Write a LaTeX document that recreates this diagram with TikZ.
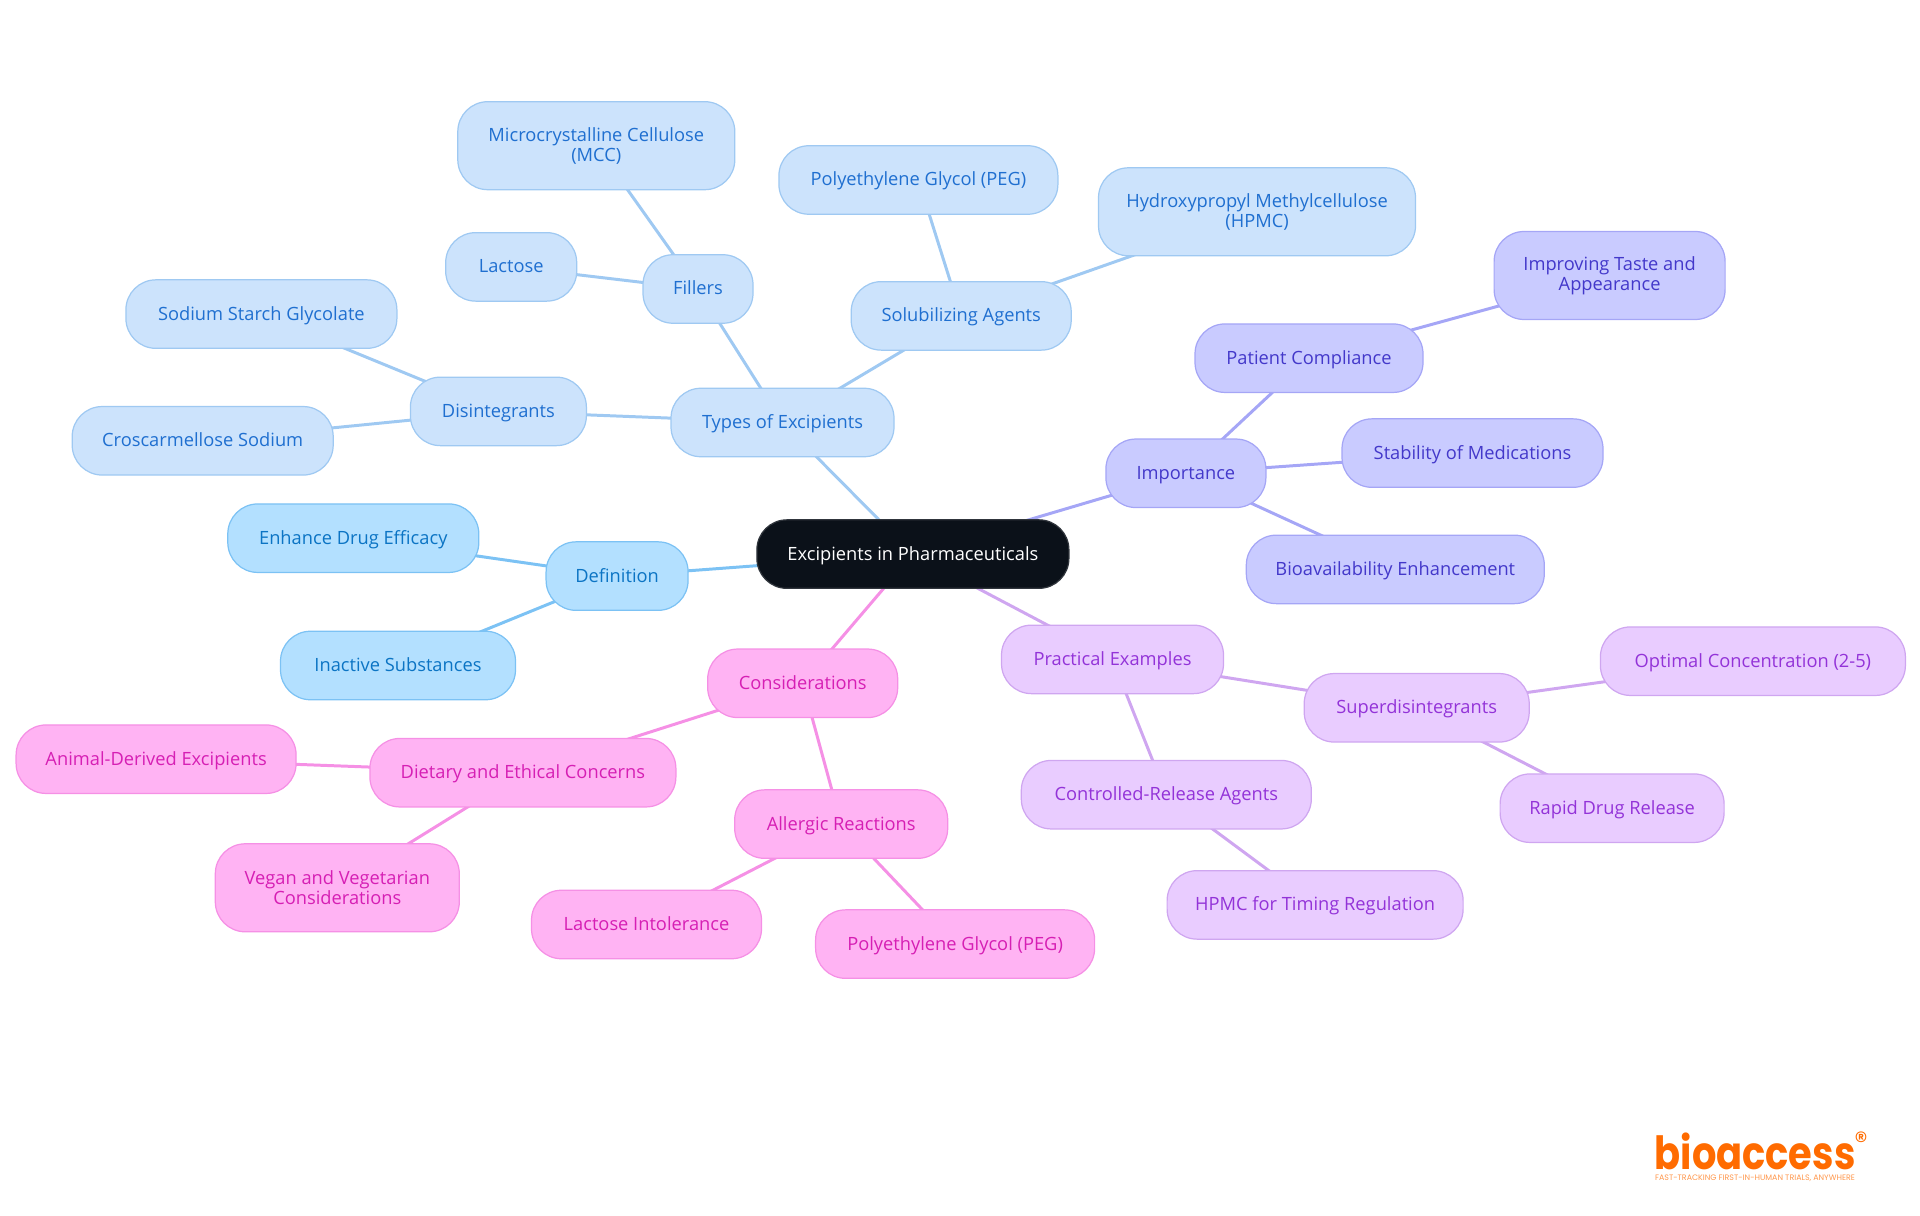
\documentclass[tikz,border=0pt]{standalone}
\usepackage{fontspec}
\setmainfont{Open Sans}
\newfontfamily\logofont{Poppins}
\usepackage{tikz}
\usetikzlibrary{backgrounds}
\definecolor{rootfill}    {HTML}{0B1119}
\definecolor{deffill}     {HTML}{B3E0FF}
\definecolor{defline}     {HTML}{7CC2F4}
\definecolor{definktext}  {HTML}{0B74C4}
\definecolor{typesfill}   {HTML}{CCE3FC}
\definecolor{typesline}   {HTML}{9FC9F2}
\definecolor{typestext}   {HTML}{1F6FD0}
\definecolor{importfill}  {HTML}{C9CBFF}
\definecolor{importline}  {HTML}{A5A6F6}
\definecolor{importtext}  {HTML}{4338CA}
\definecolor{practfill}   {HTML}{E9CCFF}
\definecolor{practline}   {HTML}{CFA6F0}
\definecolor{practtext}   {HTML}{9333D8}
\definecolor{considfill}  {HTML}{FFB3F3}
\definecolor{considline}  {HTML}{F590E5}
\definecolor{considtext}  {HTML}{D61FB4}
\definecolor{logoorange}  {HTML}{FF6B00}
\tikzset{
  mapbox/.style={rectangle, rounded corners=0.3cm, align=center, inner sep=0pt,
    minimum height=0.685cm, line width=0.35pt, text height=0.17cm, text depth=0.05cm,
    font=\fontsize{5.2}{5.6}\selectfont},
  tallbox/.style={minimum height=0.88cm, text height=, text depth=},
  rootbox/.style={mapbox, fill=rootfill, draw=rootfill!85!white, text=white},
  defbox/.style={mapbox, fill=deffill, draw=defline, text=definktext},
  typesbox/.style={mapbox, fill=typesfill, draw=typesline, text=typestext},
  importbox/.style={mapbox, fill=importfill, draw=importline, text=importtext},
  practbox/.style={mapbox, fill=practfill, draw=practline, text=practtext},
  considbox/.style={mapbox, fill=considfill, draw=considline, text=considtext},
  deflink/.style={defline, line width=0.85pt},
  typeslink/.style={typesline, line width=0.85pt},
  importlink/.style={importline, line width=0.85pt},
  practlink/.style={practline, line width=0.85pt},
  considlink/.style={considline, line width=0.85pt}
}
\begin{document}
\begin{tikzpicture}
    \useasboundingbox (0, 0) rectangle (19.2, 12.15);

    \node[rootbox, minimum width=3.12cm] (root) at (9.129, 6.609) {Excipients in Pharmaceuticals};

    \node[defbox, minimum width=1.42cm] (definition) at (6.171, 6.389) {Definition};
    \node[defbox, minimum width=2.51cm] (efficacy) at (3.533, 6.768) {Enhance Drug Efficacy};
    \node[defbox, minimum width=2.35cm] (inactive) at (3.980, 5.495) {Inactive Substances};

    \node[typesbox, minimum width=2.23cm] (types) at (7.825, 7.925) {Types of Excipients};
    \node[typesbox, minimum width=1.76cm] (disint) at (4.984, 8.036) {Disintegrants};
    \node[typesbox, minimum width=2.71cm] (starch) at (2.614, 9.009) {Sodium Starch Glycolate};
    \node[typesbox, minimum width=2.61cm] (croscarm) at (2.027, 7.742) {Croscarmellose Sodium};
    \node[typesbox, minimum width=1.10cm] (fillers) at (6.980, 9.260) {Fillers};
    \node[typesbox, minimum width=1.31cm] (lactose) at (5.112, 9.481) {Lactose};
    \node[typesbox, tallbox, minimum width=2.77cm] (mcc) at (5.963, 10.693) {Microcrystalline Cellulose\\(MCC)};
    \node[typesbox, minimum width=2.20cm] (solub) at (9.612, 8.991) {Solubilizing Agents};
    \node[typesbox, minimum width=2.79cm] (peg) at (9.184, 10.350) {Polyethylene Glycol (PEG)};
    \node[typesbox, tallbox, minimum width=3.17cm] (hpmc) at (12.570, 10.032) {Hydroxypropyl Methylcellulose\\(HPMC)};

    \node[importbox, minimum width=1.60cm] (importance) at (11.859, 7.417) {Importance};
    \node[importbox, minimum width=2.28cm] (patient) at (13.090, 8.568) {Patient Compliance};
    \node[importbox, tallbox, minimum width=2.31cm] (taste) at (16.096, 9.395) {Improving Taste and\\Appearance};
    \node[importbox, minimum width=2.61cm] (stability) at (14.725, 7.619) {Stability of Medications};
    \node[importbox, minimum width=2.98cm] (bioavail) at (13.953, 6.456) {Bioavailability Enhancement};

    \node[practbox, minimum width=2.22cm] (practical) at (11.125, 5.556) {Practical Examples};
    \node[practbox, minimum width=2.25cm] (superdis) at (14.167, 5.072) {Superdisintegrants};
    \node[practbox, minimum width=3.05cm] (optimal) at (17.529, 5.538) {Optimal Concentration (2-5)};
    \node[practbox, minimum width=2.24cm] (rapid) at (16.121, 4.068) {Rapid Drug Release};
    \node[practbox, minimum width=2.90cm] (controlled) at (11.663, 4.203) {Controlled-Release Agents};
    \node[practbox, minimum width=2.96cm] (timing) at (13.151, 3.101) {HPMC for Timing Regulation};

    \node[considbox, minimum width=1.90cm] (consid) at (8.027, 5.317) {Considerations};
    \node[considbox, minimum width=3.06cm] (dietary) at (5.229, 4.423) {Dietary and Ethical Concerns};
    \node[considbox, minimum width=2.80cm] (animal) at (1.561, 4.558) {Animal-Derived Excipients};
    \node[considbox, tallbox, minimum width=2.44cm] (vegan) at (3.373, 3.272) {Vegan and Vegetarian\\Considerations};
    \node[considbox, minimum width=2.13cm] (allergic) at (8.412, 3.909) {Allergic Reactions};
    \node[considbox, minimum width=2.30cm] (intoler) at (6.465, 2.905) {Lactose Intolerance};
    \node[considbox, minimum width=2.79cm] (pegallergy) at (9.551, 2.709) {Polyethylene Glycol (PEG)};

    \begin{scope}[on background layer]
    \draw[deflink] (root.center) -- (definition.center);
    \draw[deflink] (definition.center) -- (efficacy.center);
    \draw[deflink] (definition.center) -- (inactive.center);

    \draw[typeslink] (root.center) -- (types.center);
    \draw[typeslink] (types.center) -- (disint.center);
    \draw[typeslink] (disint.center) -- (starch.center);
    \draw[typeslink] (disint.center) -- (croscarm.center);
    \draw[typeslink] (types.center) -- (fillers.center);
    \draw[typeslink] (fillers.center) -- (lactose.center);
    \draw[typeslink] (fillers.center) -- (mcc.center);
    \draw[typeslink] (types.center) -- (solub.center);
    \draw[typeslink] (solub.center) -- (peg.center);
    \draw[typeslink] (solub.center) -- (hpmc.center);

    \draw[importlink] (root.center) -- (importance.center);
    \draw[importlink] (importance.center) -- (patient.center);
    \draw[importlink] (patient.center) -- (taste.center);
    \draw[importlink] (importance.center) -- (stability.center);
    \draw[importlink] (importance.center) -- (bioavail.center);

    \draw[practlink] (root.center) -- (practical.center);
    \draw[practlink] (practical.center) -- (superdis.center);
    \draw[practlink] (superdis.center) -- (optimal.center);
    \draw[practlink] (superdis.center) -- (rapid.center);
    \draw[practlink] (practical.center) -- (controlled.center);
    \draw[practlink] (controlled.center) -- (timing.center);

    \draw[considlink] (root.center) -- (consid.center);
    \draw[considlink] (consid.center) -- (dietary.center);
    \draw[considlink] (dietary.center) -- (animal.center);
    \draw[considlink] (dietary.center) -- (vegan.center);
    \draw[considlink] (consid.center) -- (allergic.center);
    \draw[considlink] (allergic.center) -- (intoler.center);
    \draw[considlink] (allergic.center) -- (pegallergy.center);
    \end{scope}

    % logo
    \node[inner sep=0pt, text=logoorange, anchor=base, xscale=0.84, transform shape,
      font=\logofont\bfseries\fontsize{13}{14}\selectfont] (logo) at (17.55, 0.46) {bioaccess};
    \node[inner sep=0pt, text=logoorange, font=\logofont\fontsize{7.5}{8}\selectfont] (logomark) at (18.61, 0.735) {\textregistered};
    \node[inner sep=0pt, text=logoorange!70, font=\logofont\fontsize{2.25}{2.4}\selectfont] (tagline) at (17.55, 0.37) {FAST-TRACKING FIRST-IN-HUMAN TRIALS, ANYWHERE};
\end{tikzpicture}
\end{document}
